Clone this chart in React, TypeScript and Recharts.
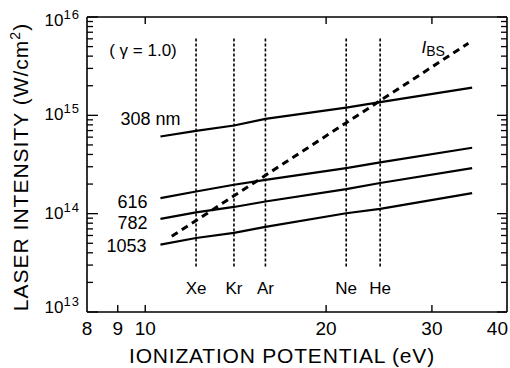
import { LineChart, Line, XAxis, YAxis, Customized } from "recharts";

const FONT = "'Liberation Sans', Arial, Helvetica, sans-serif";

// ionization potential (eV) where the wavelength curves were read
const ENERGY = [10.6, 12.15, 14.05, 15.85, 21.6, 24.6, 35];
// saturation intensity (W/cm^2) per laser wavelength
const I_308 = [6.09e14, 6.96e14, 7.88e14, 9.2e14, 1.2e15, 1.36e15, 1.91e15];
const I_616 = [1.44e14, 1.68e14, 1.97e14, 2.21e14, 2.91e14, 3.32e14, 4.68e14];
const I_782 = [8.84e13, 1.03e14, 1.17e14, 1.33e14, 1.78e14, 2.05e14, 2.91e14];
const I_1053 = [4.85e13, 5.66e13, 6.37e13, 7.33e13, 1.01e14, 1.12e14, 1.62e14];

// barrier-suppression intensity
const BS_ENERGY = [11.07, 34.5];
const I_BS = [5.88e13, 5.41e15];

// rare gases
const GASES = ["Xe", "Kr", "Ar", "Ne", "He"];
const GAS_IP = [12.15, 14.05, 15.85, 21.6, 24.6];
const GAS_RANGE = [2.9e13, 6.3e15];

const X_TICKS = [8, 9, 10, 20, 30, 40];
const X_TOP_TICKS = [10, 20, 30];
const DECADES = [13, 14, 15];
const MANTISSA = [1, 2, 3, 4, 5, 6, 7, 8, 9];
const Y_TICKS = [...DECADES.flatMap((e) => MANTISSA.map((m) => m * 10 ** e)), 1e16];

const pts = (xs: number[], ys: number[]) => xs.map((x, i) => ({ x, y: ys[i] }));

const isDecade = (v: number) => Math.abs(Math.log10(v) - Math.round(Math.log10(v))) < 1e-6;

const BottomTick = (p: any) => {
  const v = p.payload.value;
  const edge = v === 8 || v === 40;
  return (
    <g>
      {!edge && <line x1={p.x} y1={p.y} x2={p.x} y2={p.y - 7} stroke="#000" strokeWidth={1.4} />}
      <text
        x={v === 40 ? p.x + 1 : p.x}
        y={p.y + 23}
        textAnchor={v === 40 ? "end" : "middle"}
        fontSize={19}
        fontFamily={FONT}
        fill="#000"
      >
        {v}
      </text>
    </g>
  );
};

const TopTick = (p: any) => (
  <line x1={p.x} y1={p.y} x2={p.x} y2={p.y + 7} stroke="#000" strokeWidth={1.4} />
);

const LeftTick = (p: any) => {
  const v = p.payload.value;
  const major = isDecade(v);
  const exp = Math.round(Math.log10(v));
  const shift = exp === 16 ? 3 : exp === 13 ? -5 : -1;
  return (
    <g>
      <line x1={p.x} y1={p.y} x2={p.x + (major ? 11 : 6)} y2={p.y} stroke="#000" strokeWidth={1.3} />
      {major && (
        <text x={p.x - 7} y={p.y + shift + 6} textAnchor="end" fontSize={17} fontFamily={FONT} fill="#000">
          <tspan>10</tspan>
          <tspan dy={-7} fontSize={13} letterSpacing={1}>
            {exp}
          </tspan>
        </text>
      )}
    </g>
  );
};

const RightTick = (p: any) => {
  const major = isDecade(p.payload.value);
  return (
    <line x1={p.x} y1={p.y} x2={p.x - (major ? 10 : 6)} y2={p.y} stroke="#000" strokeWidth={1.3} />
  );
};

// label drawn beside the first point of a curve
const startLabel = (text: string, dx: number, dy: number) => (p: any) =>
  p.index === 0 ? (
    <text
      key={`lab-${text}`}
      x={p.cx + dx}
      y={p.cy + dy + 6.5}
      textAnchor="end"
      fontSize={18}
      fontFamily={FONT}
      fill="#000"
    >
      {text}
    </text>
  ) : (
    <g key={`lab-${text}-${p.index}`} />
  );

const gasLabel = (text: string) => (p: any) =>
  p.index === 0 ? (
    <text key={`gas-${text}`} x={p.cx} y={p.cy + 27} textAnchor="middle" fontSize={17} fontFamily={FONT} fill="#000">
      {text}
    </text>
  ) : (
    <g key={`gas-${text}-${p.index}`} />
  );

const bsLabel = (p: any) =>
  p.index === BS_ENERGY.length - 1 ? (
    <text key="bs" x={p.cx - 47} y={p.cy + 10} fontFamily={FONT} fill="#000">
      <tspan fontSize={17} fontStyle="italic">I</tspan>
      <tspan fontSize={14} dy={3}>BS</tspan>
    </text>
  ) : (
    <g key={`bs-${p.index}`} />
  );

const Annotations = () => (
  <g fontFamily={FONT} fill="#000">
    <text x={143} y={56} textAnchor="middle" fontSize={17}>
      ( γ = 1.0)
    </text>
    <text x={282} y={363} textAnchor="middle" fontSize={21} letterSpacing={0.8}>
      IONIZATION POTENTIAL (eV)
    </text>
    <text transform="rotate(-90)" x={-167} y={28} textAnchor="middle" fontSize={21} letterSpacing={1}>
      LASER INTENSITY (W/cm<tspan dy={-8} fontSize={14}>2</tspan>
      <tspan dy={8}>)</tspan>
    </text>
  </g>
);

const CURVES = [
  { name: "308 nm", values: I_308 },
  { name: "616", values: I_616 },
  { name: "782", values: I_782 },
  { name: "1053", values: I_1053 },
];
const CURVE_LABEL_OFFSET = [
  [20, -18.5],
  [-13, 3.5],
  [-13, 4],
  [-14, 1.3],
];

const FRAME = { stroke: "#000", strokeWidth: 1.6 };

export default function App() {
  return (
    <div style={{ position: "absolute", left: 0, top: 0, background: "#fff" }}>
      <LineChart width={510} height={368} margin={{ top: 16, right: 2, bottom: 55, left: 86 }}>
        <XAxis
          xAxisId="b"
          type="number"
          dataKey="x"
          scale="log"
          domain={[8, 40]}
          allowDataOverflow
          ticks={X_TICKS}
          interval={0}
          height={1}
          tickSize={0}
          tickMargin={0}
          tickLine={false}
          tick={BottomTick}
          axisLine={FRAME}
        />
        <XAxis
          xAxisId="t"
          orientation="top"
          type="number"
          dataKey="x"
          scale="log"
          domain={[8, 40]}
          allowDataOverflow
          ticks={X_TOP_TICKS}
          interval={0}
          height={1}
          tickSize={0}
          tickMargin={0}
          tickLine={false}
          tick={TopTick}
          axisLine={FRAME}
        />
        <YAxis
          yAxisId="l"
          type="number"
          scale="log"
          domain={[1e13, 1e16]}
          allowDataOverflow
          ticks={Y_TICKS}
          interval={0}
          width={1}
          tickSize={0}
          tickMargin={0}
          tickLine={false}
          tick={LeftTick}
          axisLine={FRAME}
        />
        <YAxis
          yAxisId="r"
          orientation="right"
          type="number"
          scale="log"
          domain={[1e13, 1e16]}
          allowDataOverflow
          ticks={Y_TICKS}
          interval={0}
          width={1}
          tickSize={0}
          tickMargin={0}
          tickLine={false}
          tick={RightTick}
          axisLine={FRAME}
        />

        {GASES.map((g, i) => (
          <Line
            key={g}
            xAxisId="b"
            yAxisId="l"
            data={pts([GAS_IP[i], GAS_IP[i]], GAS_RANGE)}
            dataKey="y"
            stroke="#000"
            strokeWidth={1.6}
            strokeDasharray="3 2"
            dot={gasLabel(g)}
            activeDot={false}
            isAnimationActive={false}
          />
        ))}

        {CURVES.map((c, i) => (
          <Line
            key={c.name}
            xAxisId="b"
            yAxisId="l"
            data={pts(ENERGY, c.values)}
            dataKey="y"
            type="linear"
            stroke="#000"
            strokeWidth={2.2}
            dot={startLabel(c.name, CURVE_LABEL_OFFSET[i][0], CURVE_LABEL_OFFSET[i][1])}
            activeDot={false}
            isAnimationActive={false}
          />
        ))}

        <Line
          xAxisId="b"
          yAxisId="l"
          data={pts(BS_ENERGY, I_BS)}
          dataKey="y"
          stroke="#000"
          strokeWidth={3}
          strokeDasharray="7 5"
          dot={bsLabel}
          activeDot={false}
          isAnimationActive={false}
        />

        <Customized component={Annotations} />
      </LineChart>
    </div>
  );
}
